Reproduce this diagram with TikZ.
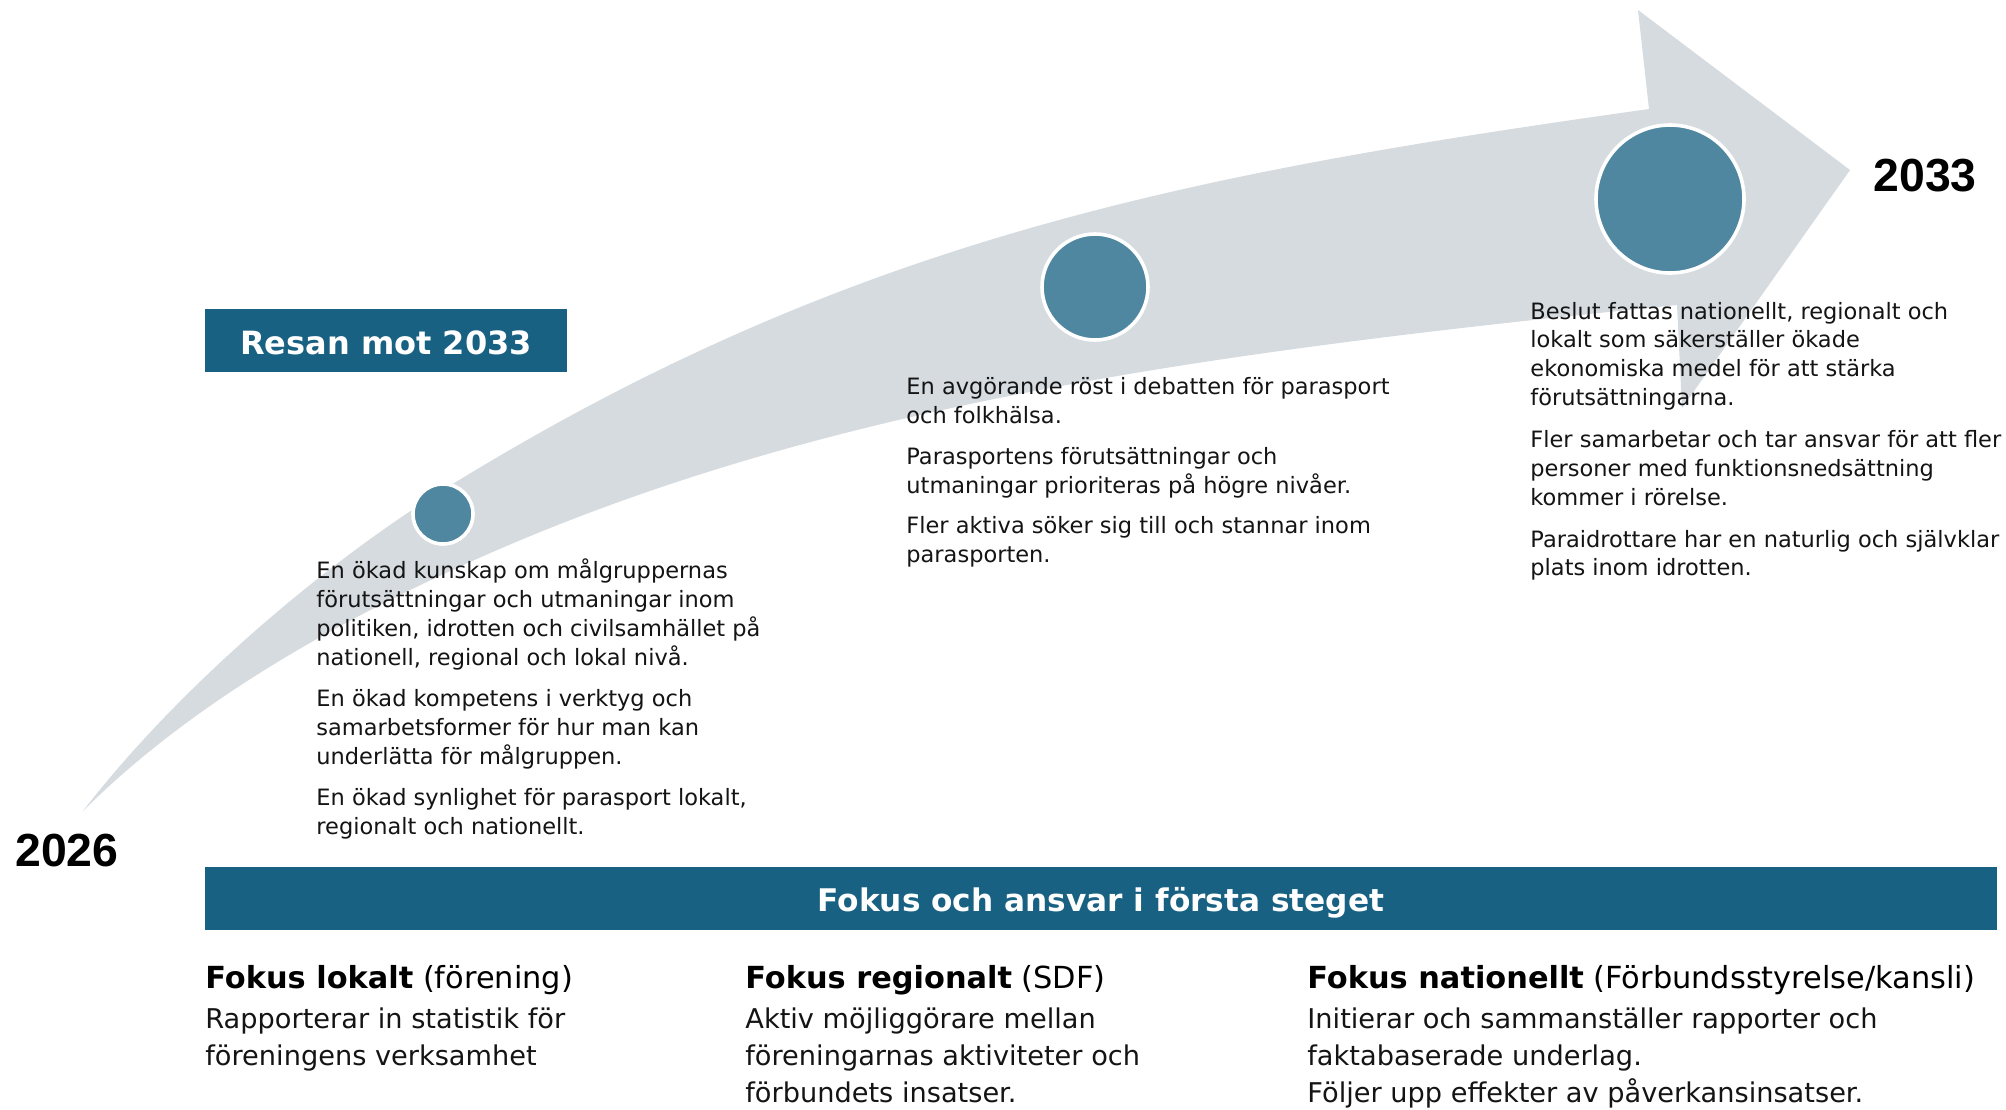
\documentclass[tikz,border=0pt]{standalone}
\usepackage{fontspec}
\setmainfont{DejaVu Sans}
\newfontfamily\yearfont{Liberation Sans}
\definecolor{bandgray}{HTML}{D6DBDF}
\definecolor{boxblue}{HTML}{186183}
\definecolor{dotblue}{HTML}{4F86A0}
\definecolor{txt}{HTML}{141414}
\begin{document}
\begin{tikzpicture}[x=0.5pt,y=-0.5pt,
  body/.style={anchor=base west, inner sep=0pt, text=txt, font=\fontsize{11.25}{13}\selectfont},
  low/.style={anchor=base west, inner sep=0pt, text=txt, font=\fontsize{13.6}{16}\selectfont},
  lowhead/.style={anchor=base west, inner sep=0pt, text=black, font=\fontsize{15.2}{18}\selectfont},
  dot/.style={circle, fill=dotblue, draw=white, line width=1.8pt, inner sep=0pt},
  year/.style={anchor=base west, inner sep=0pt, text=black, font=\yearfont\bfseries\fontsize{23.2}{27}\selectfont},
  banner/.style={fill=boxblue, draw=none, inner sep=0pt, anchor=north west},
  bannertext/.style={anchor=base, inner sep=0pt, text=white, font=\bfseries\fontsize{16}{19}\selectfont}]

\useasboundingbox (0,0) rectangle (2006,1109);
\fill[white] (0,0) rectangle (2006,1109);

% curved arrow
\fill[bandgray] (83,811)
  .. controls (174.5,692.5) and (315.5,569.5) .. (443,490)
  .. controls (851,237) and (1194,173) .. (1649,109)
  -- (1638,10) -- (1850,170) -- (1682,408) -- (1677,305)
  .. controls (1199,353) and (816.6,406) .. (470,562)
  .. controls (333,623.5) and (189,705) .. (83,811)
  -- cycle;

% milestones
\node[dot, minimum size=30pt] (c1) at (443,514) {};
\node[dot, minimum size=53pt] (c2) at (1095,287) {};
\node[dot, minimum size=74pt] (c3) at (1670,199) {};

% years
\node[year] (y2026) at (15,866) {2026};
\node[year] (y2033) at (1873,191.5) {2033};

% title box
\node[banner, minimum width=181pt, minimum height=31.5pt] (resan) at (205,309) {};
\node[bannertext] (resantext) at (386,354) {Resan mot 2033};

% block 1
\foreach \yy/\tt [count=\i] in {578/{En ökad kunskap om målgruppernas},
  607.2/{förutsättningar och utmaningar inom},
  636.4/{politiken, idrotten och civilsamhället på},
  665.6/{nationell, regional och lokal nivå.},
  706/{En ökad kompetens i verktyg och},
  735.2/{samarbetsformer för hur man kan},
  764.4/{underlätta för målgruppen.},
  805/{En ökad synlighet för parasport lokalt,},
  834.2/{regionalt och nationellt.}}
  \node[body] (a\i) at (316,\yy) {\tt};

% block 2
\foreach \yy/\tt [count=\i] in {394/{En avgörande röst i debatten för parasport},
  423/{och folkhälsa.},
  464/{Parasportens förutsättningar och},
  493/{utmaningar prioriteras på högre nivåer.},
  533/{Fler aktiva söker sig till och stannar inom},
  562/{parasporten.}}
  \node[body] (b\i) at (906,\yy) {\tt};

% block 3
\foreach \yy/\tt [count=\i] in {319/{Beslut fattas nationellt, regionalt och},
  347.8/{lokalt som säkerställer ökade},
  376.6/{ekonomiska medel för att stärka},
  405.4/{förutsättningarna.},
  447.5/{Fler samarbetar och tar ansvar för att fler},
  476.3/{personer med funktionsnedsättning},
  505.1/{kommer i rörelse.},
  547/{Paraidrottare har en naturlig och självklar},
  575.8/{plats inom idrotten.}}
  \node[body] (d\i) at (1530,\yy) {\tt};

% focus bar
\node[banner, minimum width=896pt, minimum height=31.5pt] (bar) at (205,867) {};
\node[bannertext, font=\bfseries\fontsize{15.6}{19}\selectfont] (bartext) at (1101,911) {Fokus och ansvar i första steget};

% bottom columns
\node[lowhead] (h1) at (205,988) {\textbf{Fokus lokalt} (förening)};
\node[low] (p11) at (205,1028) {Rapporterar in statistik för};
\node[low] (p12) at (205,1065) {föreningens verksamhet};

\node[lowhead] (h2) at (745,988) {\textbf{Fokus regionalt} (SDF)};
\node[low] (p21) at (745,1028) {Aktiv möjliggörare mellan};
\node[low] (p22) at (745,1065) {föreningarnas aktiviteter och};
\node[low] (p23) at (745,1102) {förbundets insatser.};

\node[lowhead] (h3) at (1307,988) {\textbf{Fokus nationellt} (Förbundsstyrelse/kansli)};
\node[low] (p31) at (1307,1028) {Initierar och sammanställer rapporter och};
\node[low] (p32) at (1307,1065) {faktabaserade underlag.};
\node[low] (p33) at (1307,1102) {Följer upp effekter av påverkansinsatser.};
\end{tikzpicture}
\end{document}
